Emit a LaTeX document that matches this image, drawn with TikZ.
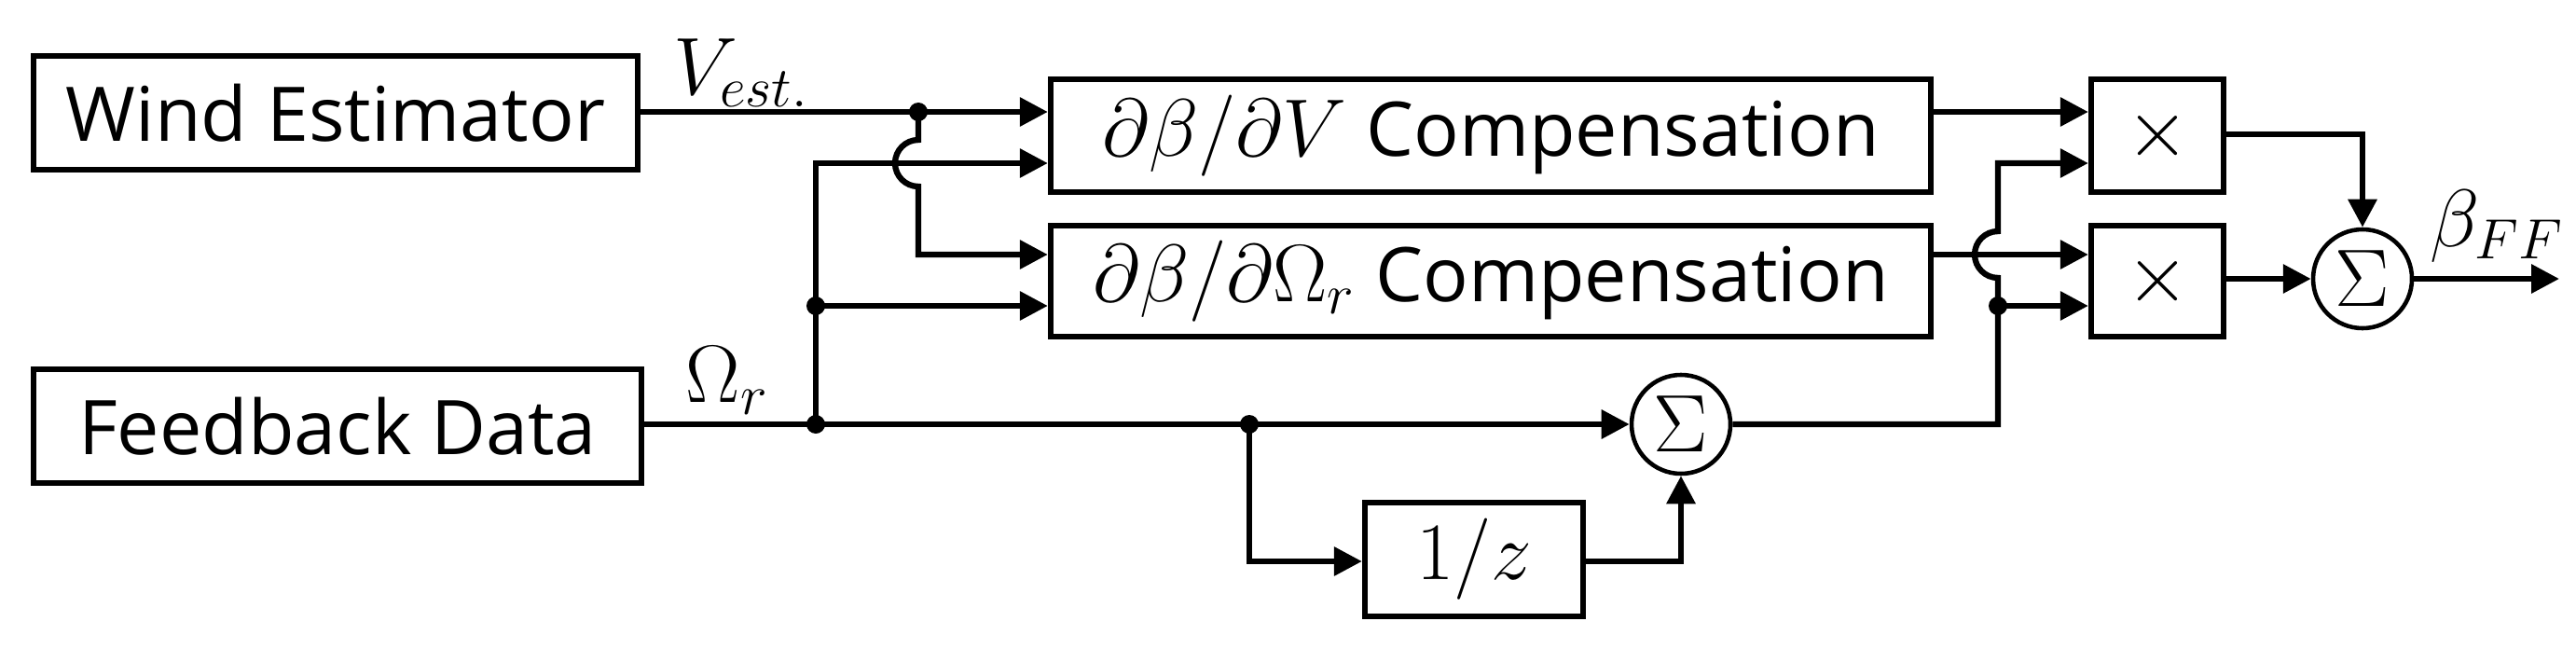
\documentclass[tikz,border=0pt]{standalone}
\usepackage{fontspec}
\setmainfont{Open Sans}
\usetikzlibrary{arrows.meta}
\begin{document}
\begin{tikzpicture}[
  line width=1.8pt,
  box/.style={draw,rectangle,inner sep=0pt,font=\fontsize{23}{27}\selectfont},
  sumn/.style={draw,circle,minimum size=1.06cm,inner sep=0pt,line width=1.3pt,font=\fontsize{26}{30}\selectfont},
  arr/.style={-{Triangle[length=0.3cm,width=0.3cm]}},
  dot/.style={circle,fill,inner sep=0pt,minimum size=0.2cm},
  lab/.style={font=\fontsize{23}{27}\selectfont}
]
\useasboundingbox (0,0) rectangle (27.63,6.95);
\node[box,minimum width=6.48cm,minimum height=1.22cm] (we) at (3.60,5.74) {Wind Estimator};
\node[box,minimum width=6.52cm,minimum height=1.22cm] (fd) at (3.62,2.38) {Feedback Data};
\node[box,minimum width=9.44cm,minimum height=1.21cm] (b1) at (15.99,5.495) {$\partial\beta/\partial V$ Compensation};
\node[box,minimum width=9.44cm,minimum height=1.19cm] (b2) at (15.99,3.935) {$\partial\beta/\partial\Omega_r$ Compensation};
\node[box,minimum width=1.42cm,minimum height=1.21cm,font=\fontsize{28}{32}\selectfont] (m1) at (23.14,5.495) {$\times$};
\node[box,minimum width=1.42cm,minimum height=1.19cm,font=\fontsize{28}{32}\selectfont] (m2) at (23.14,3.935) {$\times$};
\node[sumn] (s1) at (18.03,2.40) {$\Sigma$};
\node[sumn] (s2) at (25.34,3.96) {$\Sigma$};
\node[box,minimum width=2.34cm,minimum height=1.22cm] (z) at (15.81,0.95) {$1/z$};
\node[lab] (lv) at (7.95,6.17) {$V_{est.}$};
\node[lab] (lo) at (7.80,2.87) {$\Omega_r$};
\node[lab] (lb) at (26.78,4.52) {$\beta_{FF}$};
\coordinate (jv) at (9.85,5.75);
\coordinate (jo) at (8.75,2.40);
\coordinate (jo2) at (8.75,3.67);
\coordinate (jz) at (13.40,2.40);
\coordinate (jd) at (21.43,3.67);
\coordinate (out) at (27.45,3.96);
\node[dot] at (jv) {};
\node[dot] at (jo) {};
\node[dot] at (jo2) {};
\node[dot] at (jz) {};
\node[dot] at (jd) {};
% V_est
\draw[arr] (we.east |- jv) -- (b1.west |- jv);
\draw[arr] (jv) -- (9.85,5.45) arc[start angle=90,end angle=270,radius=0.25] -- (9.85,4.22) -- (b2.west |- 0,4.22);
% Omega
\draw[arr] (fd.east |- jo) -- (s1.west);
\draw[arr] (jo) -- (8.75,5.20) -- (b1.west |- 0,5.20);
\draw[arr] (jo2) -- (b2.west |- jo2);
\draw[arr] (jz) -- (13.40,0.93) -- (z.west |- 0,0.93);
\draw[arr] (z.east |- 0,0.93) -- (18.03,0.93) -- (s1.south);
% sum1 to multiplier
\draw[arr] (s1.east) -- (21.43,2.40) -- (jd) -- (21.43,3.97) arc[start angle=270,end angle=90,radius=0.25] -- (21.43,5.20) -- (m1.west |- 0,5.20);
\draw[arr] (jd) -- (m2.west |- jd);
\draw[arr] (b1.east |- jv) -- (m1.west |- jv);
\draw[arr] (b2.east |- 0,4.22) -- (m2.west |- 0,4.22);
% outputs
\draw[arr] (m1.east |- 0,5.51) -- (25.34,5.51) -- (s2.north);
\draw[arr] (m2.east |- s2) -- (s2.west);
\draw[arr] (s2.east) -- (out);
\end{tikzpicture}
\end{document}
